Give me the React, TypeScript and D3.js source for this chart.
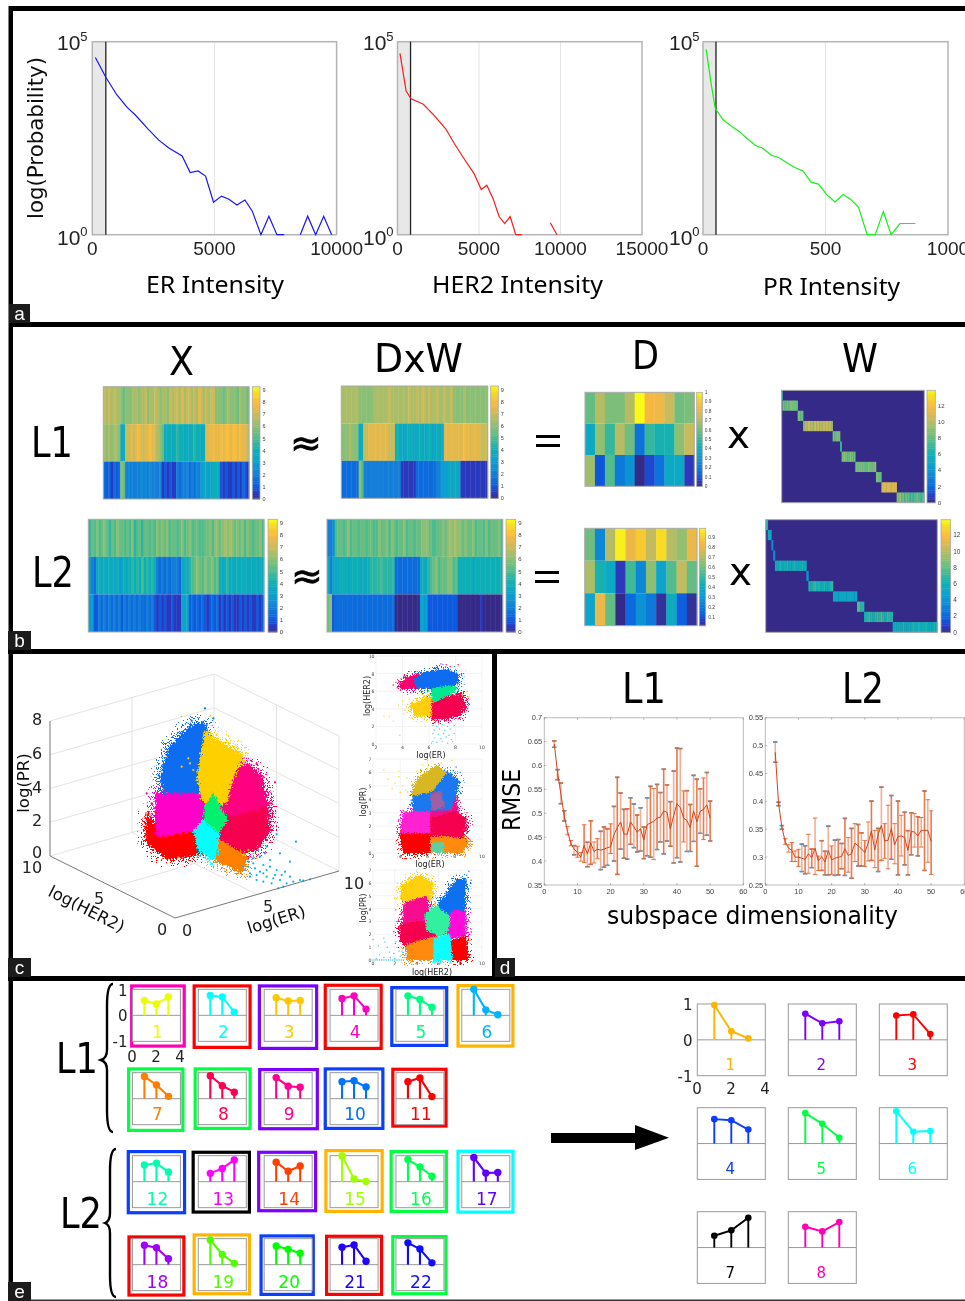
import React from "react";
import * as d3 from "d3";

const DV = "'DejaVu Sans'";
const LS = "'Liberation Sans'";

// ---------- panel a data: [intensity, log10 count]; null = gap
type Pt = [number, number] | null;
const erCurve: Pt[] = [[126,4.59],[554,4.08],[1008,3.62],[1436,3.29],[1763,3.1],[2267,2.75],[2720,2.45],[3149,2.24],[3678,2.04],[4005,1.61],[4332,1.65],[4635,1.52],[4962,.84],[5290,1],[5592,.92],[5919,.77],[6247,.9],[6549,.61],[6902,0],[7229,.48],[7557,0],[7859,0],null,[8514,0],[8816,.48],[9144,0],[9471,.48],[9798,0]];
const her2Curve: Pt[] = [[151,4.7],[529,3.72],[831,3.52],[1587,3.38],[2229,3.1],[2947,2.75],[3476,2.37],[4005,2.02],[4685,1.59],[5139,1.17],[5479,1.28],[5857,.94],[6234,.47],[6574,.29],[6914,.47],[7254,0],[7632,0],null,[9370,.31],[9786,0]];
const prCurve: Pt[] = [[13,4.8],[33,3.92],[50,3.27],[83,2.97],[118,2.8],[149,2.67],[179,2.5],[214,2.31],[244,2.24],[280,2.05],[310,2],[345,1.85],[375,1.74],[408,1.65],[441,1.36],[471,1.31],[506,1.03],[539,.85],[572,1.04],[602,.92],[635,.71],[670,0],[703,0],[736,.6],[768,0],[804,.29],[867,.29]];
const erTicks = [0,5000,10000];
const her2Ticks = [0,5000,10000,15000];
const prTicks = [0,500,1000];

// ---------- panel b data: value strings, one char per column, value = base36/2
const xL1 = ["edededdcbcccddcddecddedcddcedeedfdeededfededeecccbcdcccbdccb","dcdcddc78eefefgfeffgfedcb78878988787898878fffgffgfggfggfgffe","3231323cb454444545454445121211434453435467767887212112121321"];
const dwL1 = ["dddddddccccccddddddedddddddeddedeededdeddeddeccccdccccccccc","cccdccc78eeffffffffeee88777887788778877877ffffffffgffffffeee","3333333ca44444444444444411111133333333446667777711111111111"];
const xL2 = ["9bacabcb9bacbbabac9ab9bbabacbcbcabbabcabcabbaabbcaccbcdcdcbcbcacbabbca","743787878778678789898a8989843434344437879abcbacbbcab878978787887878787","6622434343434243434343343421212112111767232323212323121212112121211212"];
const dwL2 = ["445abbabcabbabbabbaacbbcacbabbcabbabbcccbaabbcbcdcdccbcbbcabbacabbbca","747778887888878789999a9999933333333337879abcabbbccab888888788888888888","bc23333333333333333333333330000000000666222222222222000000000100000000"];
const dL1 = [[.58,.72,.62,.62,.72,1,.85,.83,.75,.6,.62],[.38,.66,.5,.72,.6,.18,.5,.45,.45,.65,.75],[.68,.1,.55,.2,.28,0,.08,.18,.38,.38,.05]];
const dL2 = [[.6,.25,.72,.98,.82,.9,.74,.95,.72,.66,.82],[.7,.45,.38,.05,.52,.25,.65,.35,.55,.74,.58],[.35,.82,.58,0,.15,.28,.2,.02,.4,.12,.02]];
const wL1Edges = [0,.005,.112,.15,.357,.409,.42,.516,.661,.699,.806,1];
const wL1Blocks = ["d","hghgihhg","hg","ijkllkjkmklkjlkmklkj","hgih","e","hihgihg","hghihggihghi","hg","lmmlmm","ihjghfhgefefghgefg"];
const wL2Edges = [0,.012,.033,.043,.054,.237,.249,.392,.532,.573,.74,1];
const wL2Blocks = ["d","b","7","7","cbcdbccdbcbdccbcdbc","8","dcdecdbcdcbde","abaababaa","fd","cdedcdedfdcedd","bcbcbdcbcbdcbdbccdbcbdc"];

// ---------- panel c data
const polyER_HER = [
  {c:"#f5006e",p:[[3.7,6.7],[4.4,7.6],[6.3,8.3],[7.3,6.9],[6.3,6.3],[3.9,6.25]]},
  {c:"#0a6cf0",p:[[4.8,7.4],[5.8,8.2],[7.3,8.5],[8.3,7.9],[8.2,6.9],[7.5,6.3],[5.1,6.3]]},
  {c:"#ffcf10",p:[[4.6,4.5],[6.2,5.6],[6.2,3.2],[4.9,3.2]]},
  {c:"#f5004f",p:[[6.2,4.9],[7.3,5.3],[8.4,5.8],[8.8,4.4],[8.3,3.2],[7.1,2.8],[6.2,2.8]]},
  {c:"#00e890",p:[[6.2,6.3],[7.4,6.7],[8.2,6.4],[7.3,5.4],[6.3,4.6]]},
];
const polyER_PR = [
  {c:"#ff0000",p:[[4,1.6],[6.2,1.6],[6.2,0],[4.2,0]]},
  {c:"#ff8a10",p:[[6.2,1.4],[8.4,1.9],[9,.75],[8.5,0],[6.2,0]]},
  {c:"#f5004f",p:[[6.2,3],[7.7,3.4],[8.9,2.5],[8.6,1.1],[7.2,1.25],[6.2,1.25]]},
  {c:"#f0108a",p:[[6.2,4.8],[7.7,5.3],[8.3,3.2],[6.2,2.6]]},
  {c:"#ff20d0",p:[[4.2,3],[6.2,3.3],[6.2,1.45],[4,1.45]]},
  {c:"#1e78ee",p:[[4.9,4.3],[6.2,4.6],[7.4,6.1],[8.3,5.4],[7.8,3.2],[6.2,3.1],[5,3.1]]},
  {c:"#d8b820",p:[[4.9,4.5],[5.4,5.7],[6.7,6.5],[7.4,5.95],[6.4,4.6],[4.9,4.2]]},
  {c:"#a060a0",p:[[6.2,4.4],[7,4.6],[7.3,3.4],[6.3,3.1]]},
  {c:"#60d0a0",p:[[6.2,.8],[7.2,.8],[7.2,0],[6.3,0]]},
];
const polyHER_PR = [
  {c:"#ffd010",p:[[2.6,5.8],[4.15,6.6],[5.5,6],[5.3,4.6],[3.1,4.2],[2.5,4.9]]},
  {c:"#f81090",p:[[2.9,4.5],[4.9,5],[5.4,2.6],[4,2.6],[2.7,2.6]]},
  {c:"#f5004f",p:[[2.4,2.7],[4,3.1],[5.6,2.7],[5.95,1.8],[3.1,1],[2.5,1.5]]},
  {c:"#ff8a10",p:[[3,1.2],[5.95,1.95],[5.95,0],[3.1,0]]},
  {c:"#1070f0",p:[[6,4.3],[7.7,6.3],[8.5,6.3],[8.4,3.7],[7.4,3.4],[6.1,3.5]]},
  {c:"#ff10d8",p:[[6.4,3],[7.5,3.9],[8.5,3.8],[8.5,1.9],[7,1.7]]},
  {c:"#30f0a0",p:[[4.7,3.6],[5.85,4.2],[7.1,3.4],[6.95,2.3],[6,1.9],[4.85,2.3]]},
  {c:"#ff0000",p:[[7,1.4],[8.5,1.9],[8.8,0],[6.8,0]]},
  {c:"#10ffff",p:[[5.6,1.7],[7.1,2],[7.3,0],[5.5,0]]},
];
const poly3D = [
  {c:"#ff0000",p:[[440,480],[470,540],[600,530],[610,610],[505,628],[438,580]]},
  {c:"#ff00c8",p:[[465,430],[620,430],[620,540],[470,560]]},
  {c:"#0a6cf0",p:[[480,380],[510,290],[570,225],[610,215],[640,290],[600,430],[490,430]]},
  {c:"#ff0080",p:[[650,440],[690,360],[745,340],[785,380],[810,500],[700,540],[660,500]]},
  {c:"#f5004f",p:[[650,545],[680,500],[800,470],[812,540],[770,600],[725,610],[660,570]]},
  {c:"#ffd000",p:[[590,380],[615,240],[640,265],[730,315],[700,390],[680,460],[620,470],[600,440]]},
  {c:"#00f070",p:[[612,470],[640,430],[685,510],[655,550],[610,515]]},
  {c:"#ff8000",p:[[655,565],[745,620],[725,668],[645,632]]},
  {c:"#00ffff",p:[[578,540],[610,508],[660,555],[650,630],[595,605]]},
];
const sparse3D = [
  {c:"#00b4f5",p:[[830,553],[888,575],[800,590],[840,610],[870,635],[780,620],[760,640],[790,645],[810,650],[750,670],[830,660],[855,665],[770,675],[800,680],[820,685],[840,690],[870,680],[900,690],[930,688],[745,650],[780,665],[860,700],[880,695],[910,692],[835,715],[850,710],[815,700],[790,695],[770,690],[750,680],[735,660],[765,655],[800,660],[845,675],[775,600],[760,625],[795,610],[810,630],[745,635],[730,650],[825,675],[790,670]]},
  {c:"#0a6cf0",p:[[615,175],[575,212],[640,205],[490,360],[478,378],[510,300],[545,255],[620,225],[530,270],[500,330]]},
  {c:"#ffd000",p:[[632,198],[625,245],[570,340],[580,360],[545,350],[600,310],[700,300],[725,315],[670,280],[565,325],[745,600],[730,615]]},
  {c:"#ff0080",p:[[825,397],[770,342],[745,345],[440,430],[455,460],[790,380],[810,460]]},
  {c:"#f5004f",p:[[815,460],[805,500],[812,540],[800,570],[780,590]]},
  {c:"#ff0000",p:[[438,570],[435,530],[445,490]]},
];
const sparseER_HER = [
  {c:"#40c8f8",p:[[6.2,2.8],[6.5,2.5],[6.9,2.7],[7.3,2.6],[7.7,2.5],[6.3,2.1],[6.6,2],[7,2.2],[7.4,2],[7.9,2.1],[6.4,1.6],[6.8,1.7],[7.2,1.5],[7.6,1.7],[6.3,1.2],[6.7,1.1],[7.1,1.2],[7.5,1],[7.9,1.2],[6.4,.7],[6.9,.6],[7.3,.8],[7.7,.5],[6.3,.3],[6.6,.2],[7,.3],[7.4,.1],[7.8,.3],[6.2,.1]]},
  {c:"#ffcf10",p:[[2.6,3.2],[3,3.1],[3.3,2.6],[3.8,1],[3.7,4.4],[4,4.9],[4.2,3.8],[4.4,4.5],[4.6,3.7],[4.5,5.1],[4.8,4.9],[4.3,4.2],[4.7,4.1],[4.9,3.3],[8.5,5.6],[8.8,5.9],[9,5.4],[8.2,5.5],[8,5.7],[8.9,6],[4.1,3.4],[4.5,3],[4.8,2.8]]},
  {c:"#f5006e",p:[[3.3,6.7],[3.5,7],[3.6,6.4],[3.9,7.4],[4.1,7.7],[3.7,7.2],[6.5,8.6],[6.9,9.1],[7.3,9],[7.6,8.8],[8.2,9],[8.6,8],[8.9,4],[9,4.6],[8.7,3.6],[8.4,3],[8.8,5]]},
];
const sparseER_PR = [
  {c:"#ffd010",p:[[2.8,6.2],[3.1,5.5],[3.4,4.8],[3.6,5.2],[3.9,5.7],[4,4.5],[4.2,5],[4.4,4.7],[4.5,5.6],[3.9,6.1],[5.6,6.6],[6,6.9],[7,6.7],[7.8,6.9],[5.2,6.1]]},
  {c:"#ff20d0",p:[[3.9,2.5],[4,2.1],[4.1,3],[4,2.8]]},
  {c:"#ff0000",p:[[3.8,1],[3.9,.6],[4,.3],[3.95,1.3]]},
  {c:"#ff8a10",p:[[8.8,1.6],[9.1,1],[9.1,.5],[9,.2],[8.6,.4]]},
  {c:"#f5004f",p:[[8.9,3],[9,2],[9.1,2.4],[8.8,1.9]]},
  {c:"#1e78ee",p:[[4.9,3.6],[4.8,3.9],[5,3],[8.4,6],[8.1,6.4]]},
];
const sparseHER_PR = [
  {c:"#40c8f8",p:[[0,1.6],[.5,1.1],[1,1.7],[1.1,1.4],[1.3,1],[1.5,.6],[.6,.4],[.3,.1],[1,.2],[1.6,.2],[1.9,.5],[2.1,1.4],[2.2,1],[2.4,.7],[2.5,.3],[2.7,.6],[2.8,.9],[2,.1],[2.9,.2],[3,.4],[0,0],[.2,0],[.4,0],[.6,0],[.8,0],[1,0],[1.2,0],[1.4,0],[1.6,0],[1.8,0],[2,0],[2.2,0],[2.4,0],[2.6,0],[2.8,0]]},
  {c:"#ffd010",p:[[2,4.8],[2.3,4.2],[2.2,5.7],[2.6,6],[3,6.6],[5.4,6.6],[4.1,6.8],[5.7,6.1]]},
  {c:"#f5004f",p:[[1.9,2.2],[2.1,3.9],[2.2,3]]},
  {c:"#1070f0",p:[[8.8,6.9],[9,6.2],[8.7,5.5],[8.6,6.6]]},
  {c:"#ff10d8",p:[[9,2.2],[8.8,3]]},
];

// ---------- panel d data
const kL1 = d3.range(3,51);
const meanL1 = [.645,.585,.54,.495,.462,.437,.425,.418,.408,.433,.415,.438,.42,.425,.423,.425,.428,.43,.455,.47,.482,.457,.456,.482,.472,.46,.468,.444,.476,.48,.483,.49,.492,.505,.502,.467,.495,.52,.512,.49,.485,.47,.505,.482,.504,.508,.518,.49];
const loL1 = [.638,.57,.52,.484,.455,.432,.413,.408,.4,.397,.388,.393,.396,.405,.382,.387,.391,.416,.4,.372,.425,.406,.404,.435,.428,.419,.421,.405,.411,.408,.403,.424,.44,.415,.442,.431,.396,.407,.398,.44,.42,.42,.441,.389,.458,.445,.454,.442];
const hiL1 = [.652,.592,.564,.506,.472,.443,.433,.431,.418,.476,.44,.485,.44,.447,.463,.472,.468,.478,.515,.576,.543,.509,.51,.533,.52,.497,.512,.472,.533,.557,.552,.561,.544,.593,.56,.525,.589,.637,.636,.547,.548,.519,.58,.572,.552,.574,.586,.526];
const kL2 = d3.range(3,51);
const meanL2 = [.488,.396,.354,.328,.316,.312,.3,.3,.298,.296,.306,.299,.316,.293,.301,.291,.312,.295,.298,.3,.301,.315,.303,.306,.325,.32,.315,.308,.325,.347,.313,.34,.357,.329,.33,.351,.322,.337,.338,.335,.312,.346,.345,.338,.348,.348,.348,.328];
const loL2 = [.47,.392,.35,.323,.309,.292,.292,.283,.274,.27,.271,.281,.269,.276,.276,.268,.268,.269,.267,.268,.279,.267,.273,.262,.292,.284,.284,.283,.293,.294,.281,.274,.294,.298,.279,.296,.288,.268,.302,.286,.268,.304,.318,.302,.318,.276,.291,.269];
const hiL2 = [.507,.399,.357,.333,.322,.326,.311,.314,.324,.321,.341,.315,.37,.302,.33,.311,.356,.32,.331,.332,.325,.37,.335,.352,.36,.359,.344,.33,.363,.401,.348,.352,.426,.36,.393,.411,.36,.401,.375,.381,.348,.38,.378,.373,.371,.419,.403,.383];
const blueL1 = [3,4,5,6,9,13,14,17,18,19,21,22,23,24,25,26,27,28,29,30,31,32,34,35,36,37,38,39,40,41,43,44,45,46,47,49,50];
const blueL2 = [3,4,5,11,12,14,17,18,19,21,22,23,24,26,28,29,32,34,35,38,40,42,43,44,46,48];

// ---------- panel e data
const tileValues = [[.57,.44,.71],[.76,.71,.12],[.68,.55,.57],[.65,.75,.24],[.75,.61,.31],[1,.21,.02],[.85,.53,.09],[.88,.5,.25],[.81,.48,.44],[.65,.69,.45],[.65,.8,.08],[.64,.71,.37],[.32,.51,.84],[.75,.4,.6],[1,.1,.01],[.85,.57,.21],[.93,.33,.35],[.75,.65,.23],[.95,.39,.05],[.72,.59,.44],[.67,.76,.13],[.84,.6,.07]];
const tileColors = ["#eaff00","#00ffff","#ffc800","#ff00c0","#00ff80","#00b4ff","#ff8000","#ff0050","#ff0090","#0070ff","#ff0000","#00ffb0","#ff00ff","#ff4000","#a0ff00","#00ff50","#6000ff","#a000ff","#50ff00","#00ff00","#2000ff","#1010ff"];
const tileFrameColors = ["#ff00b4","#ff0000","#7a00ff","#ff0000","#0a3cff","#ffb400","#00ff40","#00ff40","#7a00ff","#0a3cff","#ff0000","#0a3cff","#000000","#7a00ff","#ffb400","#00ff40","#00ffff","#ff0000","#ffb400","#0a3cff","#ff0000","#00ff40"];
const groupValues = [[.97,.24,.04],[.73,.46,.52],[.68,.71,.16],[.68,.65,.39],[.85,.55,.16],[.9,.33,.35],[.33,.48,.83],[.58,.45,.71]];
const groupColors = ["#ffb400","#7a00ff","#ff0000","#0a3cff","#00ff40","#00ffff","#000000","#ff00b4"];

// ---------- layout
const tileFrames = [[385,550,28,218],[570,745,28,222],[763,942,28,225],[958,1133,26,225],[1155,1327,33,216],[1351,1523,27,218],[376,546,277,471],[573,745,277,465],[764,944,279,466],[958,1138,277,465],[1158,1325,278,458],[375,551,525,718],[567,743,527,716],[761,939,527,712],[960,1136,522,714],[1153,1326,525,714],[1351,1523,524,716],[377,549,781,965],[570,743,775,961],[768,932,778,963],[962,1134,779,963],[1158,1325,780,961]];
const tileSlots = [[0,0],[1,0],[2,0],[3,0],[4,0],[5,0],[0,1],[1,1],[2,1],[3,1],[4,1],[0,2],[1,2],[2,2],[3,2],[4,2],[5,2],[0,3],[1,3],[2,3],[3,3],[4,3]];
const rowZeros = [121,371,620,869];

const parula = d3.scaleLinear<string>()
  .domain([0,.06,.11,.22,.33,.44,.55,.66,.75,.85,.95,1])
  .range(["#352a87","#2b3bc4","#0a5ce0","#127fd8","#06a1d0","#12b0b4","#52bc8c","#93bf70","#c8bb5c","#f8b840","#f8dc22","#f9fb15"])
  .interpolate(d3.interpolateRgb);

const decode = (s: string) => s.split("").map((c) => parseInt(c, 36) / 2);

function StrHeat({x0,x1,y0,y1,rows,max}:{x0:number;x1:number;y0:number;y1:number;rows:string[];max:number}) {
  const y = d3.scaleBand<number>().domain([0,1,2]).range([y0,y1]);
  return <g>
    {rows.map((s,r)=>{
      const v = decode(s);
      const x = d3.scaleLinear().domain([0,v.length]).range([x0,x1]);
      return v.map((val,i)=><rect key={r+"-"+i} x={x(i)} y={y(r)} width={x(i+1)-x(i)+.4} height={y.bandwidth()} fill={parula(val/max)}/>);
    })}
    <rect x={x0} y={y0} width={x1-x0} height={y1-y0} fill="none" stroke="#aaa" strokeWidth={1}/>
  </g>;
}
function CellHeat({x0,x1,y0,y1,rows}:{x0:number;x1:number;y0:number;y1:number;rows:number[][]}) {
  const y = d3.scaleBand<number>().domain([0,1,2]).range([y0,y1]);
  const x = d3.scaleBand<number>().domain(d3.range(rows[0].length)).range([x0,x1]);
  return <g>
    {rows.map((row,r)=>row.map((val,i)=><rect key={r+"-"+i} x={x(i)} y={y(r)} width={x.bandwidth()+.3} height={y.bandwidth()} fill={parula(val)}/>))}
    <rect x={x0} y={y0} width={x1-x0} height={y1-y0} fill="none" stroke="#aaa" strokeWidth={1}/>
  </g>;
}
function DiagHeat({x0,x1,y0,y1,edges,blocks,max}:{x0:number;x1:number;y0:number;y1:number;edges:number[];blocks:string[];max:number}) {
  const x = d3.scaleLinear().domain([0,1]).range([x0,x1]);
  const y = d3.scaleBand<number>().domain(d3.range(blocks.length)).range([y0,y1]);
  return <g>
    <rect x={x0} y={y0} width={x1-x0} height={y1-y0} fill="#352a87"/>
    {blocks.map((s,r)=>{
      const v = decode(s);
      const sub = d3.scaleLinear().domain([0,v.length]).range([x(edges[r]),x(edges[r+1])]);
      return v.map((val,i)=><rect key={r+"-"+i} x={sub(i)} y={y(r)} width={sub(i+1)-sub(i)+.3} height={y.bandwidth()} fill={parula(val/max)}/>);
    })}
    <rect x={x0} y={y0} width={x1-x0} height={y1-y0} fill="none" stroke="#aaa" strokeWidth={1}/>
  </g>;
}
function Colorbar({x0,x1,y0,y1,min,max,ticks,fs,fmt}:{x0:number;x1:number;y0:number;y1:number;min:number;max:number;ticks:number[];fs:number;fmt?:(n:number)=>string}) {
  const y = d3.scaleLinear().domain([min,max]).range([y1,y0]);
  const steps = d3.range(0,64);
  const h = (y1-y0)/64;
  return <g>
    {steps.map(i=><rect key={i} x={x0} y={y1-(i+1)*h} width={x1-x0} height={h+.4} fill={parula((i+.5)/64)}/>)}
    <rect x={x0} y={y0} width={x1-x0} height={y1-y0} fill="none" stroke="#aaa" strokeWidth={.8}/>
    {ticks.map(t=><text key={t} x={x1+2.5} y={y(t)+fs*.35} fontFamily={LS} fontSize={fs} fill="#444">{fmt?fmt(t):t}</text>)}
  </g>;
}

function HistPanel({x0,x1,y0,y1,domain,ticks,curve,color,thr,bandEnd,labelX}:{x0:number;x1:number;y0:number;y1:number;domain:number;ticks:number[];curve:Pt[];color:string;thr:number;bandEnd:number;labelX:number}) {
  const x = d3.scaleLinear().domain([0,domain]).range([x0,x1]);
  const y = d3.scaleLog().domain([1,1e5]).range([y1,y0]);
  const line = d3.line<Pt>().defined(d=>d!==null).x(d=>x(d![0])).y(d=>y(Math.pow(10,d![1])));
  return <g>
    <rect x={x0} y={y0} width={x(bandEnd)-x0} height={y1-y0} fill="#e8e8e8"/>
    {ticks.slice(1,-1).map(t=><line key={t} x1={x(t)} x2={x(t)} y1={y0} y2={y1} stroke="#e4e4e4" strokeWidth={1}/>)}
    <rect x={x0} y={y0} width={x1-x0} height={y1-y0} fill="none" stroke="#b4b4b4" strokeWidth={1.5}/>
    <line x1={x(thr)} x2={x(thr)} y1={y0} y2={y1} stroke="#222" strokeWidth={1.3}/>
    <path d={line(curve)!} fill="none" stroke={color} strokeWidth={1.2}/>
    {ticks.map(t=><text key={t} x={x(t)} y={255} textAnchor="middle" fontFamily={LS} fontSize={19} fill="#222">{t}</text>)}
    <text x={labelX} y={50} fontFamily={LS} fontSize={21} fill="#222">10<tspan dy={-9} fontSize={13}>5</tspan></text>
    <text x={labelX} y={245} fontFamily={LS} fontSize={21} fill="#222">10<tspan dy={-9} fontSize={13}>0</tspan></text>
  </g>;
}

function Polys({polys,sx,sy,sparse,r,filter}:{polys:{c:string;p:number[][]}[];sx:any;sy:any;sparse:{c:string;p:number[][]}[];r:number;filter:string}) {
  const line = d3.line<number[]>().x(d=>sx(d[0])).y(d=>sy(d[1])).curve(d3.curveLinearClosed);
  return <g>
    <g filter={`url(#${filter}Wide)`}>
      {polys.map((q,i)=><path key={i} d={line(q.p)!} fill={q.c}/>)}
    </g>
    <g filter={`url(#${filter})`}>
      {polys.map((q,i)=><path key={i} d={line(q.p)!} fill={q.c}/>)}
    </g>
    {sparse.map((q,i)=><g key={i}>{q.p.map((d,j)=><circle key={j} cx={sx(d[0])} cy={sy(d[1])} r={r} fill={q.c}/>)}</g>)}
  </g>;
}

function Inset({x0,x1,y0,y1,xd,yd,xt,yt,polys,sparse,xlab,ylab,xlabX,xlabY,ylabX,ylabY}:any) {
  const sx = d3.scaleLinear().domain(xd).range([x0,x1]);
  const sy = d3.scaleLinear().domain(yd).range([y1,y0]);
  return <g>
    {xt.map((t:number)=><line key={"x"+t} x1={sx(t)} x2={sx(t)} y1={y0} y2={y1} stroke="#eee" strokeWidth={.7}/>)}
    {yt.map((t:number)=><line key={"y"+t} x1={x0} x2={x1} y1={sy(t)} y2={sy(t)} stroke="#eee" strokeWidth={.7}/>)}
    <Polys polys={polys} sx={sx} sy={sy} sparse={sparse} r={.7} filter="roughS"/>
    {xt.map((t:number)=><text key={"xl"+t} x={sx(t)} y={y1+5} textAnchor="middle" fontFamily={DV} fontSize={4.6} fill="#444">{t}</text>)}
    {yt.map((t:number)=><text key={"yl"+t} x={x0-1.5} y={sy(t)+2} textAnchor="end" fontFamily={DV} fontSize={4.6} fill="#444">{t}</text>)}
    <text x={xlabX} y={xlabY} textAnchor="middle" fontFamily={DV} fontSize={8} fill="#222">{xlab}</text>
    <text transform={`translate(${ylabX},${ylabY}) rotate(-90)`} textAnchor="middle" fontFamily={DV} fontSize={8} fill="#222">{ylab}</text>
  </g>;
}

function Scatter3D() {
  const O = [175,918], eX = [164,-47], hX = [-125,-62], zX = [0,-135];
  const P = (er:number,her:number,pr:number) => [O[0]+er/10*eX[0]+her/10*hX[0]+pr/8*zX[0], O[1]+er/10*eX[1]+her/10*hX[1]+pr/8*zX[1]];
  const seg = (a:number[],b:number[],k:string,col="#dcdcdc",w=.8)=><line key={k} x1={a[0]} y1={a[1]} x2={b[0]} y2={b[1]} stroke={col} strokeWidth={w}/>;
  const sx = d3.scaleLinear().domain([150,1018]).range([50,339.3]);
  const sy = d3.scaleLinear().domain([804,75]).range([918,675]);
  const g: any[] = [];
  [2,4,6,8].forEach(z=>{
    g.push(seg(P(0,10,z),P(10,10,z),"a"+z));
    g.push(seg(P(10,10,z),P(10,0,z),"b"+z));
  });
  g.push(seg(P(0,10,0),P(10,10,0),"c"),seg(P(10,10,0),P(10,0,0),"d"));
  g.push(seg(P(5,10,0),P(5,10,8),"e"),seg(P(10,10,0),P(10,10,8),"f"),seg(P(10,5,0),P(10,5,8),"g"),seg(P(10,0,0),P(10,0,8),"h"));
  g.push(seg(P(5,0,0),P(5,10,0),"i"),seg(P(0,5,0),P(10,5,0),"j"));
  return <g>
    {g}
    <Polys polys={poly3D} sx={sx} sy={sy} sparse={sparse3D} r={1.1} filter="roughL"/>
    {seg(P(0,0,0),P(0,10,0),"ax1","#777",1)}
    {seg(P(0,0,0),P(10,0,0),"ax2","#777",1)}
    {seg(P(0,10,0),P(0,10,8),"ax3","#777",1)}
    {[0,2,4,6,8].map(t=><text key={t} x={37} y={P(0,10,t)[1]+(t===0?2:4)} textAnchor="middle" fontFamily={DV} fontSize={16} fill="#222">{t}</text>)}
    <text x={32} y={873} textAnchor="middle" fontFamily={DV} fontSize={16} fill="#222">10</text>
    <text x={99} y={904} textAnchor="middle" fontFamily={DV} fontSize={16} fill="#222">5</text>
    <text x={162} y={935} textAnchor="middle" fontFamily={DV} fontSize={16} fill="#222">0</text>
    <text x={187} y={936} textAnchor="middle" fontFamily={DV} fontSize={16} fill="#222">0</text>
    <text x={268} y={912} textAnchor="middle" fontFamily={DV} fontSize={16} fill="#222">5</text>
    <text x={354} y={889} textAnchor="middle" fontFamily={DV} fontSize={16} fill="#222">10</text>
    <text transform="translate(29,783) rotate(-90)" textAnchor="middle" fontFamily={DV} fontSize={16.5} fill="#111">log(PR)</text>
    <text transform="translate(84,914) rotate(27)" textAnchor="middle" fontFamily={DV} fontSize={16.5} fill="#111">log(HER2)</text>
    <text transform="translate(278,925) rotate(-17)" textAnchor="middle" fontFamily={DV} fontSize={16.5} fill="#111">log(ER)</text>
  </g>;
}

function ErrPanel({x0,x1,y0,y1,yd,yt,ks,mean,lo,hi,blue,fmt}:any) {
  const x = d3.scaleLinear().domain([0,60]).range([x0,x1]);
  const y = d3.scaleLinear().domain(yd).range([y1,y0]);
  const line = d3.line<number>().x((_,i)=>x(ks[i])).y(d=>y(d));
  const xt = [0,10,20,30,40,50,60];
  return <g>
    <rect x={x0} y={y0} width={x1-x0} height={y1-y0} fill="none" stroke="#bbb" strokeWidth={1}/>
    {xt.map((t)=><g key={t}><line x1={x(t)} x2={x(t)} y1={y1} y2={y1-2} stroke="#888" strokeWidth={.6}/><line x1={x(t)} x2={x(t)} y1={y0} y2={y0+2} stroke="#888" strokeWidth={.6}/><text x={x(t)} y={y1+9} textAnchor="middle" fontFamily={LS} fontSize={7.5} fill="#444">{t}</text></g>)}
    {yt.map((t:number)=><g key={t}><line x1={x0} x2={x0+2} y1={y(t)} y2={y(t)} stroke="#888" strokeWidth={.6}/><text x={x0-2} y={y(t)+2.6} textAnchor="end" fontFamily={LS} fontSize={7.5} fill="#444">{fmt(t)}</text></g>)}
    {ks.map((k:number,i:number)=><g key={k}>
      {blue.includes(k) && <g>
        <line x1={x(k)-2.2} x2={x(k)+2.2} y1={y(hi[i])+.4} y2={y(hi[i])+.4} stroke="#2a9be8" strokeWidth={1.6}/>
        <line x1={x(k)-2.2} x2={x(k)+2.2} y1={y(lo[i])-.1} y2={y(lo[i])-.1} stroke="#2a9be8" strokeWidth={1.6}/>
      </g>}
      <line x1={x(k)} x2={x(k)} y1={y(lo[i])} y2={y(hi[i])} stroke="#e8602c" strokeOpacity={i%2?.85:.5} strokeWidth={1.6}/>
      <line x1={x(k)-2.2} x2={x(k)+2.2} y1={y(hi[i])} y2={y(hi[i])} stroke="#e8703c" strokeWidth={1}/>
      <line x1={x(k)-2.2} x2={x(k)+2.2} y1={y(lo[i])} y2={y(lo[i])} stroke="#e8703c" strokeWidth={1}/>
    </g>)}
    <path d={line(mean)!} fill="none" stroke="#d4411c" strokeWidth={1}/>
  </g>;
}

function Stem({x0,x1,y0,y1,vals,color,sw,r}:{x0:number;x1:number;y0:number;y1:number;vals:number[];color:string;sw:number;r:number}) {
  const x = d3.scaleLinear().domain([0,4]).range([x0,x1]);
  const y = d3.scaleLinear().domain([-1,1]).range([y1,y0]);
  const line = d3.line<number>().x((_,i)=>x(i+1)).y(d=>y(d));
  return <g>
    <rect x={x0} y={y0} width={x1-x0} height={y1-y0} fill="#fff" stroke="#999" strokeWidth={1}/>
    <line x1={x0} x2={x1} y1={y(0)} y2={y(0)} stroke="#999" strokeWidth={1}/>
    {vals.map((v,i)=><line key={i} x1={x(i+1)} x2={x(i+1)} y1={y(0)} y2={y(v)} stroke={color} strokeWidth={sw}/>)}
    <path d={line(vals)!} fill="none" stroke={color} strokeWidth={sw}/>
    {vals.map((v,i)=><circle key={i} cx={x(i+1)} cy={y(v)} r={r} fill={color}/>)}
  </g>;
}

function Tiles() {
  const zx = (v:number)=>v/2.96;
  const zy = (v:number)=>975+v/3;
  return <g>
    {tileValues.map((vals,i)=>{
      const [a,b,c,d] = tileFrames[i];
      const [col,row] = tileSlots[i];
      const cx = zx(463+195*col);
      const z = zy(rowZeros[row]);
      return <g key={i}>
        <rect x={zx(a)+1.6} y={zy(c)+1.6} width={zx(b)-zx(a)-3.2} height={zy(d)-zy(c)-3.2} fill="#fff" stroke={tileFrameColors[i]} strokeWidth={3.2}/>
        <Stem x0={cx-24} x1={cx+24} y0={z-26} y1={z+26} vals={vals} color={tileColors[i]} sw={2.1} r={3.7}/>
        <text x={cx+1} y={z+(row===1?21:23)} textAnchor="middle" fontFamily={DV} fontSize={17} fill={tileColors[i]}>{i+1}</text>
      </g>;
    })}
    {[["1",995.5],["0",1020.5],["-1",1046.5]].map(([t,y])=><text key={t as string} x={127.5} y={y as number} textAnchor="end" fontFamily={DV} fontSize={15} fill="#222">{t}</text>)}
    {[[132,"0"],[156,"2"],[180,"4"]].map(([x,t])=><text key={t as string} x={x as number} y={1062} textAnchor="middle" fontFamily={DV} fontSize={15} fill="#222">{t}</text>)}
  </g>;
}
function Groups() {
  const cols = [697.3,788.3,879.3];
  const rows = [1004,1107.7,1211.7];
  return <g>
    {groupValues.map((vals,i)=>{
      const x = cols[i%3], y = rows[Math.floor(i/3)];
      return <g key={i}>
        <Stem x0={x} x1={x+68} y0={y} y1={y+71.7} vals={vals} color={groupColors[i]} sw={1.9} r={3.3}/>
        <text x={x+33} y={y+66} textAnchor="middle" fontFamily={DV} fontSize={15} fill={groupColors[i]}>{i+1}</text>
      </g>;
    })}
    {[["1",1009.5],["0",1045.5],["-1",1081.5]].map(([t,y])=><text key={t as string} x={692.5} y={y as number} textAnchor="end" fontFamily={DV} fontSize={15} fill="#222">{t}</text>)}
    {[[697,"0"],[731,"2"],[765,"4"]].map(([x,t])=><text key={t as string} x={x as number} y={1094} textAnchor="middle" fontFamily={DV} fontSize={15} fill="#222">{t}</text>)}
  </g>;
}
function Brace({tip,stem,right,y0,y1,ym}:{tip:number;stem:number;right:number;y0:number;y1:number;ym:number}) {
  const p = d3.path();
  p.moveTo(right,y0);
  p.quadraticCurveTo(stem,y0,stem,y0+22);
  p.lineTo(stem,ym-10);
  p.quadraticCurveTo(stem,ym-2,tip,ym);
  p.quadraticCurveTo(stem,ym+2,stem,ym+10);
  p.lineTo(stem,y1-22);
  p.quadraticCurveTo(stem,y1,right,y1);
  return <path d={p.toString()} fill="none" stroke="#000" strokeWidth={2.4}/>;
}
function Label({x,y,w,t}:{x:number;y:number;w:number;t:string}) {
  return <g>
    <rect x={x} y={y} width={w} height={19} fill="#1c1c1c"/>
    <text x={x+w/2} y={y+16} textAnchor="middle" fontFamily={LS} fontSize={19} fill="#fff">{t}</text>
  </g>;
}
const H = ({x,y,fs,t,w,font=DV}:{x:number;y:number;fs:number;t:string;w?:number;font?:string}) =>
  <text x={x} y={y} fontFamily={font} fontSize={fs} fill="#000" {...(w?{textLength:w,lengthAdjust:"spacingAndGlyphs"}:{})}>{t}</text>;

function SpeckleFilter({id,freq,seed,scale}:{id:string;freq:number;seed:number;scale:number}) {
  return <filter id={id} x="-15%" y="-15%" width="130%" height="130%" colorInterpolationFilters="sRGB">
    <feTurbulence type="fractalNoise" baseFrequency={freq} numOctaves={1} seed={seed} result="n"/>
    <feComponentTransfer in="n" result="m">
      <feFuncR type="linear" slope={3.5} intercept={-1.25}/>
      <feFuncG type="linear" slope={3.5} intercept={-1.25}/>
      <feFuncA type="linear" slope={0} intercept={1}/>
    </feComponentTransfer>
    <feDisplacementMap in="SourceGraphic" in2="m" scale={scale} xChannelSelector="R" yChannelSelector="G"/>
  </filter>;
}

export default function App() {
  const range09 = d3.range(0,10);
  const fmt1 = (n:number)=>String(+n.toFixed(1));
  return (
    <svg width={965} height={1301} viewBox="0 0 965 1301" style={{position:"absolute",left:0,top:0,background:"#fff"}}>
      <defs>
        <filter id="soft" x="0" y="0" width="100%" height="100%" filterUnits="objectBoundingBox">
          <feGaussianBlur stdDeviation="0.4"/>
        </filter>
        <filter id="roughL" x="-10%" y="-10%" width="120%" height="120%">
          <feTurbulence type="fractalNoise" baseFrequency="0.55" numOctaves={2} seed={3}/>
          <feDisplacementMap in="SourceGraphic" scale={8} xChannelSelector="R" yChannelSelector="G"/>
        </filter>
        <SpeckleFilter id="roughLWide" freq={1.2} seed={8} scale={18}/>
        <filter id="roughS" x="-10%" y="-10%" width="120%" height="120%">
          <feTurbulence type="fractalNoise" baseFrequency="0.8" numOctaves={2} seed={5}/>
          <feDisplacementMap in="SourceGraphic" scale={5} xChannelSelector="R" yChannelSelector="G"/>
        </filter>
        <SpeckleFilter id="roughSWide" freq={1.3} seed={11} scale={11}/>
      </defs>
      <rect x={0} y={0} width={965} height={1301} fill="#fff"/>
      <g filter="url(#soft)">
        {/* panel a */}
        <HistPanel x0={92.3} x1={336.6} y0={41.7} y1={234.7} domain={10000} ticks={erTicks} curve={erCurve} color="#1414ff" thr={554} bandEnd={554} labelX={57}/>
        <HistPanel x0={397.5} x1={642} y0={41.7} y1={234.7} domain={15000} ticks={her2Ticks} curve={her2Curve} color="#ff1a1a" thr={800} bandEnd={800} labelX={363}/>
        <HistPanel x0={703} x1={948} y0={41.7} y1={234.7} domain={1000} ticks={prTicks} curve={prCurve} color="#14f014" thr={53} bandEnd={53} labelX={669}/>
        <text transform="translate(43,138) rotate(-90)" textAnchor="middle" fontFamily={DV} fontSize={21} fill="#111" textLength={162} lengthAdjust="spacingAndGlyphs">log(Probability)</text>
        <H x={146} y={293} fs={23} t="ER Intensity" w={138} font="'Noto Sans'"/>
        <H x={432} y={293} fs={23} t="HER2 Intensity" w={171} font="'Noto Sans'"/>
        <H x={763} y={295} fs={23} t="PR Intensity" w={137} font="'Noto Sans'"/>

        {/* panel b */}
        <H x={169} y={375} fs={39} t="X" w={25}/>
        <H x={374} y={372} fs={39} t="DxW" w={89}/>
        <H x={632} y={369} fs={39} t="D" w={27}/>
        <H x={842} y={372} fs={39} t="W" w={36}/>
        <H x={31} y={457} fs={43} t="L1" w={42}/>
        <H x={32} y={587} fs={43} t="L2" w={42}/>
        <text x={290} y={456} fontFamily={DV} fontSize={38} fill="#000" stroke="#000" strokeWidth={.7}>≈</text>
        <text x={291} y={589} fontFamily={DV} fontSize={38} fill="#000" stroke="#000" strokeWidth={.7}>≈</text>
        <rect x={536} y={435} width={24} height={3} fill="#000"/><rect x={536} y={444} width={24} height={3} fill="#000"/>
        <rect x={535} y={571} width={24} height={3} fill="#000"/><rect x={535} y={580} width={24} height={3} fill="#000"/>
        <H x={727} y={448} fs={38} t="x" w={23}/>
        <H x={729} y={585} fs={38} t="x" w={23}/>

        <StrHeat x0={103.3} x1={249} y0={386.7} y1={499} rows={xL1} max={9.3}/>
        <Colorbar x0={252.3} x1={260} y0={386.7} y1={499} min={0} max={9.3} ticks={range09} fs={5.5}/>
        <StrHeat x0={341.3} x1={487.7} y0={386} y1={498.3} rows={dwL1} max={9.3}/>
        <Colorbar x0={490.7} x1={498.3} y0={386} y1={498.3} min={0} max={9.3} ticks={range09} fs={5.5}/>
        <StrHeat x0={88.3} x1={264} y0={519.3} y1={632} rows={xL2} max={9.3}/>
        <Colorbar x0={268} x1={277.3} y0={519.3} y1={632} min={0} max={9.3} ticks={range09} fs={6}/>
        <StrHeat x0={327} x1={502.7} y0={519.3} y1={632} rows={dwL2} max={9.3}/>
        <Colorbar x0={506} x1={515.7} y0={519.3} y1={632} min={0} max={9.3} ticks={range09} fs={6}/>
        <CellHeat x0={585} x1={694.3} y0={392.3} y1={486.3} rows={dL1}/>
        <Colorbar x0={696.7} x1={702.3} y0={392.3} y1={486.3} min={0} max={1} ticks={d3.range(0,11).map(d=>d/10)} fs={4.8} fmt={fmt1}/>
        <CellHeat x0={584.7} x1={697} y0={528.3} y1={625.7} rows={dL2}/>
        <Colorbar x0={699.3} x1={705.7} y0={528.3} y1={625.7} min={.02} max={.99} ticks={d3.range(1,10).map(d=>d/10)} fs={5} fmt={fmt1}/>
        <DiagHeat x0={781.7} x1={924.3} y0={390.3} y1={502.7} edges={wL1Edges} blocks={wL1Blocks} max={13.9}/>
        <Colorbar x0={927} x1={935.3} y0={390.3} y1={502.7} min={0} max={13.9} ticks={[0,2,4,6,8,10,12]} fs={6}/>
        <DiagHeat x0={765.7} x1={937.3} y0={519.7} y1={632.3} edges={wL2Edges} blocks={wL2Blocks} max={13.9}/>
        <Colorbar x0={941} x1={950.7} y0={519.7} y1={632.3} min={0} max={13.9} ticks={[0,2,4,6,8,10,12]} fs={6.5}/>

        {/* panel c */}
        <Scatter3D/>
        <Inset x0={376} x1={482} y0={656} y1={744} xd={[2,10]} yd={[0,10]} xt={[2,4,6,8,10]} yt={[0,2,4,6,8,10]} polys={polyER_HER} sparse={sparseER_HER} xlab="log(ER)" ylab="log(HER2)" xlabX={431} xlabY={758} ylabX={370} ylabY={696}/>
        <Inset x0={373} x1={482} y0={759} y1={853} xd={[2,10]} yd={[0,7]} xt={[2,4,6,8,10]} yt={[0,1,2,3,4,5,6,7]} polys={polyER_PR} sparse={sparseER_PR} xlab="log(ER)" ylab="log(PR)" xlabX={430} xlabY={867} ylabX={366} ylabY={802}/>
        <Inset x0={373} x1={482} y0={870} y1={960} xd={[0,10]} yd={[0,7]} xt={[0,2,4,6,8,10]} yt={[0,1,2,3,4,5,6,7]} polys={polyHER_PR} sparse={sparseHER_PR} xlab="log(HER2)" ylab="log(PR)" xlabX={432} xlabY={974.5} ylabX={366} ylabY={908}/>

        {/* panel d */}
        <H x={622} y={703} fs={43} t="L1" w={44}/>
        <H x={842} y={703} fs={43} t="L2" w={42}/>
        <text transform="translate(520,800) rotate(-90)" textAnchor="middle" fontFamily={DV} fontSize={25} fill="#000" textLength={62} lengthAdjust="spacingAndGlyphs">RMSE</text>
        <H x={607} y={924} fs={25} t="subspace dimensionality" w={291}/>
        <ErrPanel x0={544.3} x1={743.3} y0={717.7} y1={885} yd={[.35,.7]} yt={[.35,.4,.45,.5,.55,.6,.65,.7]} ks={kL1} mean={meanL1} lo={loL1} hi={hiL1} blue={blueL1} fmt={(n:number)=>String(+n.toFixed(2))}/>
        <ErrPanel x0={765.3} x1={964.3} y0={717.7} y1={885} yd={[.25,.55]} yt={[.25,.3,.35,.4,.45,.5,.55]} ks={kL2} mean={meanL2} lo={loL2} hi={hiL2} blue={blueL2} fmt={(n:number)=>String(+n.toFixed(2))}/>

        {/* panel e */}
        <Tiles/>
        <H x={56} y={1073} fs={43} t="L1" w={42}/>
        <H x={60} y={1228} fs={43} t="L2" w={42}/>
        <Brace tip={101} stem={107} right={113} y0={984} y1={1132} ym={1060}/>
        <Brace tip={105} stem={110} right={116} y0={1149} y1={1297} ym={1223}/>
        <Groups/>
        <path d={d3.line()([[551,1133],[635,1133],[635,1125],[669,1137.7],[635,1150],[635,1143],[551,1143]])!+"Z"} fill="#000"/>

        {/* frames */}
        <rect x={9} y={6} width={956} height={5} fill="#000"/>
        <rect x={9} y={322} width={956} height={5} fill="#000"/>
        <rect x={8} y={649} width={957} height={5} fill="#000"/>
        <rect x={8} y={976} width={957} height={5} fill="#000"/>
        <rect x={8} y={1299.5} width={957} height={1.5} fill="#333"/>
        <rect x={8.5} y={6} width={4.5} height={1295} fill="#000"/>
        <rect x={492} y={652} width={5} height={326} fill="#000"/>
        <Label x={9} y={304} w={21} t="a"/>
        <Label x={8} y={631} w={23} t="b"/>
        <Label x={8} y={958} w={23} t="c"/>
        <Label x={495} y={958} w={20} t="d"/>
        <Label x={8} y={1282} w={23} t="e"/>
      </g>
    </svg>
  );
}
